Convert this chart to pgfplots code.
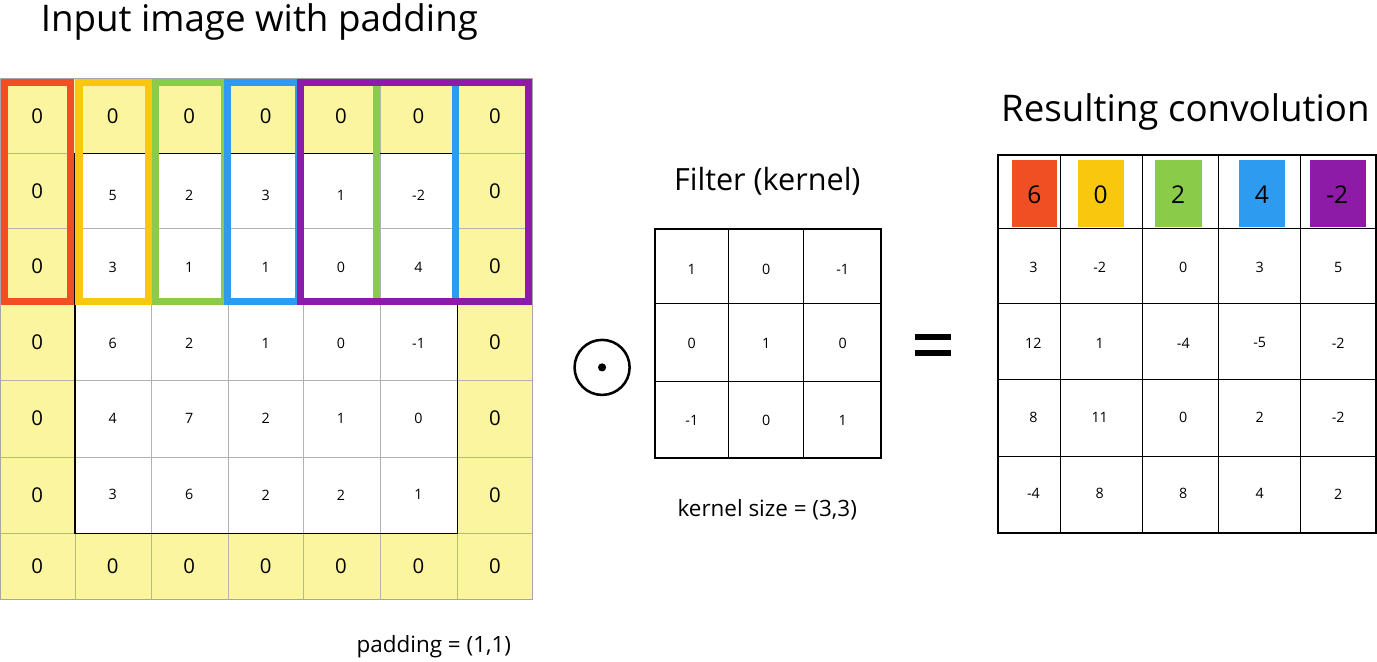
\documentclass[border=0pt]{standalone}
\usepackage{pgfplots}
\pgfplotsset{compat=1.18}
\usepackage{pgfplotstable}
\usepackage{fontspec}
\setmainfont{Open Sans}
\definecolor{cred}{HTML}{F04E23}
\definecolor{corange}{HTML}{F9C80E}
\definecolor{cgreen}{HTML}{8BCB4A}
\definecolor{cblue}{HTML}{2D9BF0}
\definecolor{cpurple}{HTML}{8E1AA8}
\definecolor{cyel}{HTML}{FCF5A0}
\pgfplotstableread{
x y l
44 137 0
118 137 0
193 137 0
268 137 0
342 137 0
418 137 0
493 137 0
44 210 0
44 284 0
44 358 0
44 433 0
44 508 0
493 210 0
493 284 0
493 358 0
493 433 0
493 508 0
44 578 0
118 578 0
193 578 0
268 578 0
342 578 0
418 578 0
493 578 0
}\padtab
\pgfplotstableread{
x y l
118 214 5
193 214 2
268 214 3
342 214 1
418 214 -2
118 285 3
193 285 1
268 285 1
342 285 0
418 285 4
118 359 6
193 359 2
268 359 1
342 359 0
418 359 -1
118 433 4
193 433 7
268 433 2
342 433 1
418 433 0
118 508 3
193 508 6
268 508 2
342 508 2
418 508 1
}\intab
\pgfplotstableread{
x y l
686 287 1
759 287 0
834 287 -1
686 359 0
759 359 1
834 359 0
686 435 -1
759 435 0
834 435 1
}\filtab
\pgfplotstableread{
x y l
1021 285 3
1086 285 -2
1168 285 0
1243 285 3
1320 285 5
1021 359 12
1086 359 1
1168 359 -4
1243 359 -5
1320 359 -2
1021 432 8
1086 432 11
1168 432 0
1243 432 2
1320 432 -2
1021 507 -4
1086 507 8
1168 507 8
1243 507 4
1320 507 2
}\restab
\pgfplotstableread{
x y l
1022 214 6
1087 214 0
1163 214 2
1245 214 4
1319 214 -2
}\toptab
\begin{document}
\begin{tikzpicture}
\begin{axis}[scale only axis, width=1377pt, height=725pt, xmin=0, xmax=1377, ymin=0, ymax=725,
  y dir=reverse, hide axis, clip=false,
  every node near coord/.append style={anchor=center, text=black},
  nodes near coords, point meta=explicit symbolic]
% left grid
\fill[cyel] (axis cs:8,100) rectangle (axis cs:530,611);
\fill[white] (axis cs:81,173) rectangle (axis cs:456,546);
\draw[gray!60, line width=0.6pt] (axis cs:81,100) -- (axis cs:81,611);
\draw[gray!60, line width=0.6pt] (axis cs:156,100) -- (axis cs:156,611);
\draw[gray!60, line width=0.6pt] (axis cs:231,100) -- (axis cs:231,611);
\draw[gray!60, line width=0.6pt] (axis cs:305,100) -- (axis cs:305,611);
\draw[gray!60, line width=0.6pt] (axis cs:380,100) -- (axis cs:380,611);
\draw[gray!60, line width=0.6pt] (axis cs:456,100) -- (axis cs:456,611);
\draw[gray!60, line width=0.6pt] (axis cs:8,173) -- (axis cs:530,173);
\draw[gray!60, line width=0.6pt] (axis cs:8,247) -- (axis cs:530,247);
\draw[gray!60, line width=0.6pt] (axis cs:8,321) -- (axis cs:530,321);
\draw[gray!60, line width=0.6pt] (axis cs:8,396) -- (axis cs:530,396);
\draw[gray!60, line width=0.6pt] (axis cs:8,471) -- (axis cs:530,471);
\draw[gray!60, line width=0.6pt] (axis cs:8,546) -- (axis cs:530,546);
\draw[black, line width=1.5pt] (axis cs:81,173) rectangle (axis cs:456,546);
\draw[gray!70, line width=1pt] (axis cs:8,100) rectangle (axis cs:530,611);
\draw[cred, line width=7pt] (axis cs:12,104) rectangle (axis cs:77,318);
\draw[corange, line width=7pt] (axis cs:85,104) rectangle (axis cs:153,318);
\draw[cgreen, line width=7pt] (axis cs:160,104) rectangle (axis cs:228,318);
\draw[cblue, line width=7pt] (axis cs:231,104) rectangle (axis cs:300,318);
\draw[cgreen, line width=7pt] (axis cs:377,104) -- (axis cs:377,318);
\draw[cblue, line width=7pt] (axis cs:454,104) -- (axis cs:454,318);
\draw[cpurple, line width=7pt] (axis cs:302,104) rectangle (axis cs:526,318);
\addplot[draw=none, mark=none, every node near coord/.append style={font=\fontsize{20}{22}\selectfont}] table[x=x,y=y,meta=l]{\padtab};
\addplot[draw=none, mark=none, every node near coord/.append style={font=\fontsize{14}{16}\selectfont}] table[x=x,y=y,meta=l]{\intab};
\node[font=\fontsize{36}{40}\selectfont, anchor=west] at (axis cs:44,44) {Input image with padding};
\node[font=\fontsize{22}{26}\selectfont] at (axis cs:433,657) {padding = (1,1)};
% odot
\draw[black, line width=2.5pt] (axis cs:598,383) circle[radius=27pt];
\fill[black] (axis cs:598,383) circle[radius=4pt];
% filter
\node[font=\fontsize{30}{34}\selectfont] at (axis cs:760,200) {Filter (kernel)};
\draw[black, line width=1pt] (axis cs:722,247) -- (axis cs:722,472);
\draw[black, line width=1pt] (axis cs:796,247) -- (axis cs:796,472);
\draw[black, line width=1pt] (axis cs:650,320) -- (axis cs:872,320);
\draw[black, line width=1pt] (axis cs:650,397) -- (axis cs:872,397);
\draw[black, line width=2pt] (axis cs:650,247) rectangle (axis cs:872,472);
\addplot[draw=none, mark=none, every node near coord/.append style={font=\fontsize{14}{16}\selectfont}] table[x=x,y=y,meta=l]{\filtab};
\node[font=\fontsize{22}{26}\selectfont] at (axis cs:760,523) {kernel size = (3,3)};
% equals
\fill[black] (axis cs:905,350) rectangle (axis cs:940,356);
\fill[black] (axis cs:905,366) rectangle (axis cs:940,372);
% result
\node[font=\fontsize{36}{40}\selectfont] at (axis cs:1170,132) {Resulting convolution};
\fill[cred] (axis cs:1000,180) rectangle (axis cs:1044,245);
\fill[corange] (axis cs:1065,180) rectangle (axis cs:1110,245);
\fill[cgreen] (axis cs:1140,180) rectangle (axis cs:1186,245);
\fill[cblue] (axis cs:1223,180) rectangle (axis cs:1268,245);
\fill[cpurple] (axis cs:1292,180) rectangle (axis cs:1347,245);
\draw[black, line width=1pt] (axis cs:1048,175) -- (axis cs:1048,545);
\draw[black, line width=1pt] (axis cs:1128,175) -- (axis cs:1128,545);
\draw[black, line width=1pt] (axis cs:1203,175) -- (axis cs:1203,545);
\draw[black, line width=1pt] (axis cs:1283,175) -- (axis cs:1283,545);
\draw[black, line width=1pt] (axis cs:986,247) -- (axis cs:1357,247);
\draw[black, line width=1pt] (axis cs:986,320) -- (axis cs:1357,320);
\draw[black, line width=1pt] (axis cs:986,395) -- (axis cs:1357,395);
\draw[black, line width=1pt] (axis cs:986,470) -- (axis cs:1357,470);
\draw[black, line width=2pt] (axis cs:986,175) rectangle (axis cs:1357,545);
\addplot[draw=none, mark=none, every node near coord/.append style={font=\fontsize{24}{26}\selectfont}] table[x=x,y=y,meta=l]{\toptab};
\addplot[draw=none, mark=none, every node near coord/.append style={font=\fontsize{14}{16}\selectfont}] table[x=x,y=y,meta=l]{\restab};
\end{axis}
\end{tikzpicture}
\end{document}
